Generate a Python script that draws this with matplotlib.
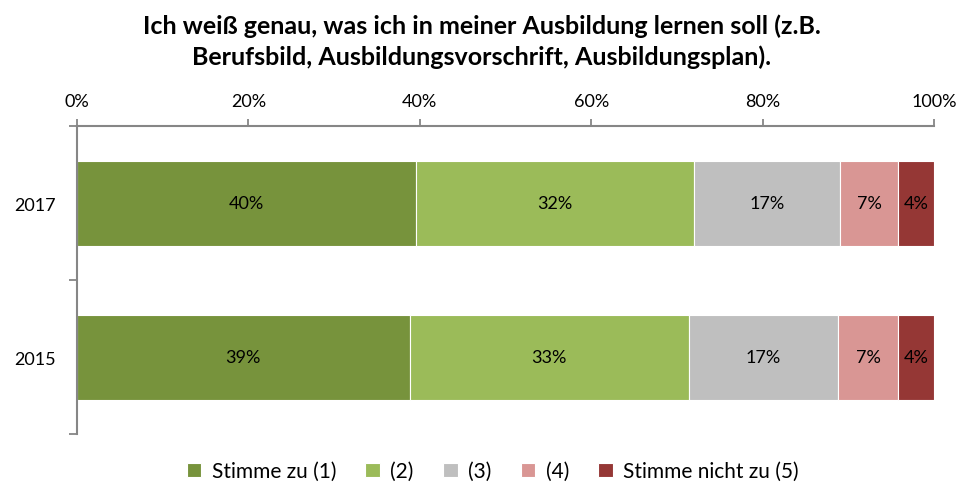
import matplotlib.pyplot as plt
import numpy as np

years = ["2015", "2017"]
categories = ["Stimme zu (1)", "(2)", "(3)", "(4)", "Stimme nicht zu (5)"]
# share per answer, in percent (rows follow years)
values = np.array([
    [38.8, 32.6, 17.4, 7.0, 4.2],
    [39.6, 32.4, 17.0, 6.8, 4.2],
])
colors = ["#77933C", "#9BBB59", "#BFBFBF", "#D99694", "#953735"]
x_ticks = [0, 20, 40, 60, 80, 100]

plt.rcParams['font.family'] = ['Lato', 'DejaVu Sans']

fig = plt.figure(figsize=(9.63, 4.89), dpi=100)
ax = fig.add_axes([0.080, 0.110, 0.890, 0.630])

y = np.arange(len(years))
left = np.zeros(len(years))
for j, cat in enumerate(categories):
    bars = ax.barh(y, values[:, j], left=left, height=0.55, color=colors[j],
                   edgecolor="white", linewidth=0.8, label=cat)
    for i, b in enumerate(bars):
        ax.text(left[i] + values[i, j] / 2, y[i], f"{values[i, j]:.0f}%",
                ha="center", va="center", fontsize=13, color="black")
    left += values[:, j]

ax.set_xlim(0, 100)
ax.set_ylim(-0.5, 1.5)
ax.xaxis.tick_top()
ax.set_xticks(x_ticks)
ax.set_xticklabels([f"{t}%" for t in x_ticks])
ax.set_yticks(y)
ax.set_yticklabels(years)
ax.set_yticks([-0.5, 0.5, 1.5], minor=True)
ax.tick_params(axis="y", which="major", length=0, pad=15, labelsize=13)
ax.tick_params(axis="y", which="minor", length=6, width=1.3, color="#868686", direction="out")
ax.tick_params(axis="x", length=5, width=1.3, color="#868686", pad=7, labelsize=13)

for s in ["right", "bottom"]:
    ax.spines[s].set_visible(False)
for s in ["left", "top"]:
    ax.spines[s].set_color("#868686")
    ax.spines[s].set_linewidth(1.5)

fig.text(0.5, 0.915, "Ich weiß genau, was ich in meiner Ausbildung lernen soll (z.B.\nBerufsbild, Ausbildungsvorschrift, Ausbildungsplan).",
         ha="center", va="center", fontsize=18, fontweight="bold", linespacing=1.35)

ax.legend(loc="center", bbox_to_anchor=(0.485, -0.12), ncol=5, frameon=False,
          fontsize=15, handlelength=0.7, handleheight=0.7, handletextpad=0.5,
          columnspacing=1.4)

fig.savefig("out.png", dpi=100)
